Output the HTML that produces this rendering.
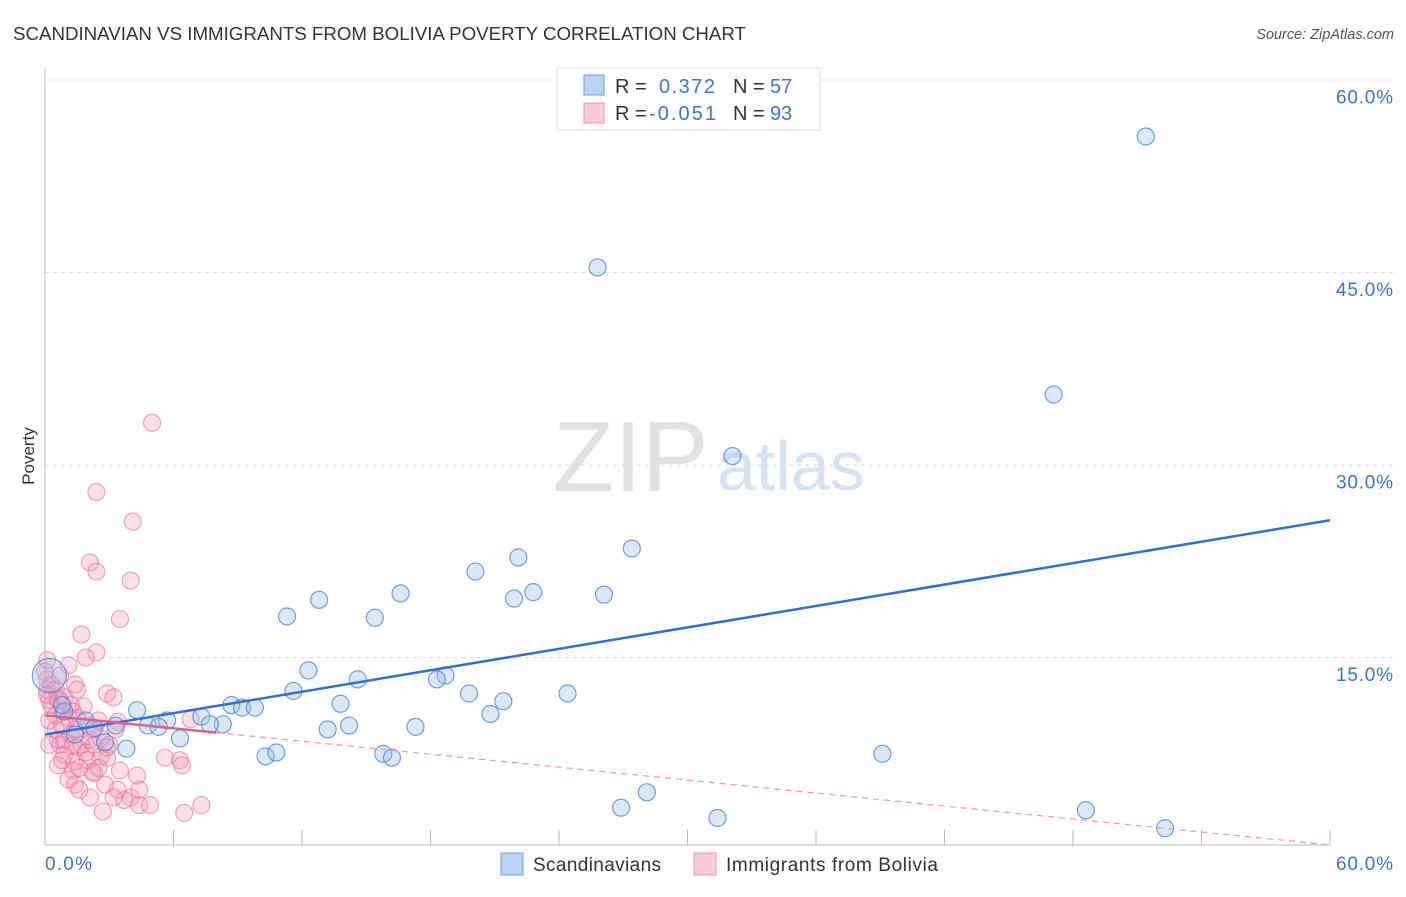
<!DOCTYPE html>
<html><head><meta charset="utf-8"><style>
body{margin:0;background:#fff;font-family:"Liberation Sans",sans-serif}
svg text{font-family:"Liberation Sans",sans-serif}
</style></head><body>
<svg id="c" width="1406" height="892">
<text x="13" y="40" font-size="18" fill="#333" textLength="733" lengthAdjust="spacingAndGlyphs">SCANDINAVIAN VS IMMIGRANTS FROM BOLIVIA POVERTY CORRELATION CHART</text>
<text x="1394" y="39" font-size="14.5" fill="#555" font-style="italic" text-anchor="end">Source: ZipAtlas.com</text>
<text x="34" y="456" font-size="17" fill="#333" text-anchor="middle" transform="rotate(-90 34 456)">Poverty</text>
<g>
<text x="553" y="491" font-size="100" fill="#e2e2e2" font-family="Liberation Serif,serif">ZIP</text>
<text x="717" y="490" font-size="70" fill="#d5e3f5">atlas</text>
</g>
<g id="grid"></g><g id="axes"></g><g id="pts"></g><g id="trend"></g>
<g>
<rect x="557" y="68" width="263" height="62" fill="#fff" stroke="#ddd"/>
<rect x="584" y="75" width="20" height="20" fill="#b9d3f5" stroke="#6f9de0"/>
<rect x="584" y="103" width="20" height="20" fill="#fbcbd8" stroke="#ec93ae"/>
<text x="615" y="93" font-size="20" fill="#333">R =</text><text x="659" y="93" font-size="20" fill="#3b74d0" textLength="56">0.372</text>
<text x="733" y="93" font-size="20" fill="#333">N =</text><text x="770" y="93" font-size="20" fill="#3b74d0">57</text>
<text x="615" y="120" font-size="20" fill="#333">R =</text><text x="649" y="120" font-size="20" fill="#3b74d0" textLength="67">-0.051</text>
<text x="733" y="120" font-size="20" fill="#333">N =</text><text x="770" y="120" font-size="20" fill="#3b74d0">93</text>
</g>
<g><rect x="501" y="853" width="22" height="22" fill="#b9d3f5" stroke="#6f9de0"/><text x="533" y="871" font-size="19" fill="#333" textLength="128">Scandinavians</text></g>
<g><rect x="694" y="853" width="22" height="22" fill="#fbcbd8" stroke="#ec93ae"/><text x="726" y="871" font-size="19" fill="#333" textLength="212">Immigrants from Bolivia</text></g>
</svg>
<script>
const yTicks=[15,30,45,60];
const xTickLabels=["0.0%","60.0%"];
const blueX=[51.4,25.8,47.1,32.1,27.4,22.1,20.1,16.6,22.8,21.9,26.1,12.8,11.3,15.4,12.3,18.7,14.6,18.3,11.6,24.4,19.8,21.4,13.8,8.7,9.2,9.8,4.3,20.8,7.3,5.7,4.8,8.3,7.7,14.2,17.3,3.3,13.2,5.3,1.9,0.9,6.3,2.8,3.8,10.3,10.8,15.8,16.2,39.1,28.1,26.9,48.6,31.4,52.3,2.3,1.4,0.8,0.2];
const blueY=[55.4,45.2,35.3,30.5,23.3,22.6,21.5,19.8,19.9,19.4,19.7,19.3,18.0,17.9,13.8,13.4,13.1,13.1,12.2,12.0,12.0,11.4,11.2,11.1,10.9,10.9,10.7,10.4,10.2,9.9,9.5,9.6,9.6,9.5,9.4,9.5,9.2,9.4,9.9,10.6,8.5,8.2,7.7,7.1,7.4,7.3,7.0,7.3,4.3,3.1,2.9,2.3,1.5,9.3,8.8,11.1,13.4];
const pinkX=[5.0,2.4,4.1,2.1,2.4,4.0,3.5,1.7,2.4,1.9,0.1,1.4,1.5,2.9,3.2,0.7,0.1,0.3,0.8,1.1,1.8,2.5,3.4,3.3,6.8,1.2,2.1,0.7,1.5,0.9,2.0,2.6,2.9,0.6,1.3,2.2,3.5,1.4,2.8,3.2,4.0,3.7,2.1,2.7,4.3,5.6,6.3,6.4,4.4,4.9,7.3,6.5,0.2,0.5,0.9,1.3,1.7,2.3,1.1,1.6,0.1,0.3,0.5,0.9,1.2,1.3,1.5,2.0,0.6,0.8,2.2,2.6,3.0,0.2,0.5,0.7,1.1,0.0,1.4,1.9,2.3,0.2,0.8,1.6,2.5,3.4,4.4,0.1,0.6,2.9,1.4];
const pinkY=[33.1,27.7,25.4,22.2,21.5,20.8,17.8,16.6,15.2,14.8,14.6,12.7,12.3,12.0,11.7,11.5,12.3,11.1,10.6,10.1,11.0,9.9,9.8,9.2,10.0,8.8,8.4,8.0,7.8,7.2,6.8,7.1,7.0,6.4,6.0,5.9,6.0,4.9,4.9,3.9,3.9,3.7,3.9,2.8,5.6,7.0,6.8,6.4,3.3,3.3,3.3,2.7,9.9,9.2,8.4,8.0,8.0,5.8,5.3,4.5,13.1,12.7,12.3,11.7,11.1,10.6,10.1,9.5,8.4,9.5,9.2,8.5,8.0,11.5,10.3,13.4,14.2,13.7,6.7,7.4,8.0,8.0,6.8,6.2,6.2,4.5,4.5,11.9,11.5,7.8,9.2];
const blueTrend=[8.8,25.5];
const pinkTrend=[10.3,0.2];
const pinkSolidEnd=8.0;

const NS="http://www.w3.org/2000/svg";
const X0=45,X1=1330,Y0=847.5,Y60=77.5;
const sx=v=>X0+(X1-X0)*v/60, sy=v=>Y0-(Y0-Y60)*v/60;
function mk(tag,attrs,parent){const e=document.createElementNS(NS,tag);for(const k in attrs)e.setAttribute(k,attrs[k]);document.getElementById(parent).appendChild(e);return e;}
yTicks.forEach(t=>{
 const l=mk('line',{x1:X0,x2:1395,y1:sy(t)+2.5,y2:sy(t)+2.5,stroke:'#ddd','stroke-dasharray':'4,4'},'grid');
 
 
 const tx=mk('text',{x:1393,y:sy(t)+26,'font-size':19,fill:'#3b74d0','text-anchor':'end',textLength:57},'grid');
 tx.textContent=t.toFixed(1)+'%';
 
 
});
const ax=mk('line',{x1:X0,x2:X0,y1:68,y2:845,stroke:'#bbb'},'axes');


const bx=mk('line',{x1:X0,x2:X1,y1:845,y2:845,stroke:'#bbb'},'axes');


for(let i=0;i<=10;i++){const t=mk('line',{x1:sx(i*6),x2:sx(i*6),y1:830,y2:845,stroke:'#bbb'},'axes');
 
 }
const xl=mk('text',{x:45,y:870,'font-size':19,fill:'#3b74d0',textLength:47},'axes');xl.textContent=xTickLabels[0];


const xr=mk('text',{x:1393,y:870,'font-size':19,fill:'#3b74d0','text-anchor':'end',textLength:57},'axes');xr.textContent=xTickLabels[1];


pinkX.forEach((v,i)=>{const c=mk('circle',{cx:sx(v),cy:sy(pinkY[i]),r:8.5,fill:'rgba(244,150,178,0.3)',stroke:'rgba(232,110,150,0.6)','stroke-width':1.2},'pts');
 
 });
blueX.forEach((v,i)=>{const c=mk('circle',{cx:sx(v),cy:sy(blueY[i]),r:i==blueX.length-1?17:8.5,fill:'rgba(150,190,240,0.35)',stroke:'rgba(70,130,215,0.75)','stroke-width':1.2},'pts');
 
 });
const bt=mk('line',{x1:sx(0),y1:sy(blueTrend[0]),x2:sx(60),y2:sy(blueTrend[1]),stroke:'#2f6fd6','stroke-width':2.5},'trend');


const pAt=v=>pinkTrend[0]+(pinkTrend[1]-pinkTrend[0])*v/60;
const pt=mk('line',{x1:sx(0),y1:sy(pinkTrend[0]),x2:sx(pinkSolidEnd),y2:sy(pAt(pinkSolidEnd)),stroke:'#e0608a','stroke-width':2.5},'trend');


const pd=mk('line',{x1:sx(pinkSolidEnd),y1:sy(pAt(pinkSolidEnd)),x2:sx(60),y2:sy(pinkTrend[1]),stroke:'#eb97b2','stroke-width':1.2,'stroke-dasharray':'6,5'},'trend');


</script>
</body></html>
